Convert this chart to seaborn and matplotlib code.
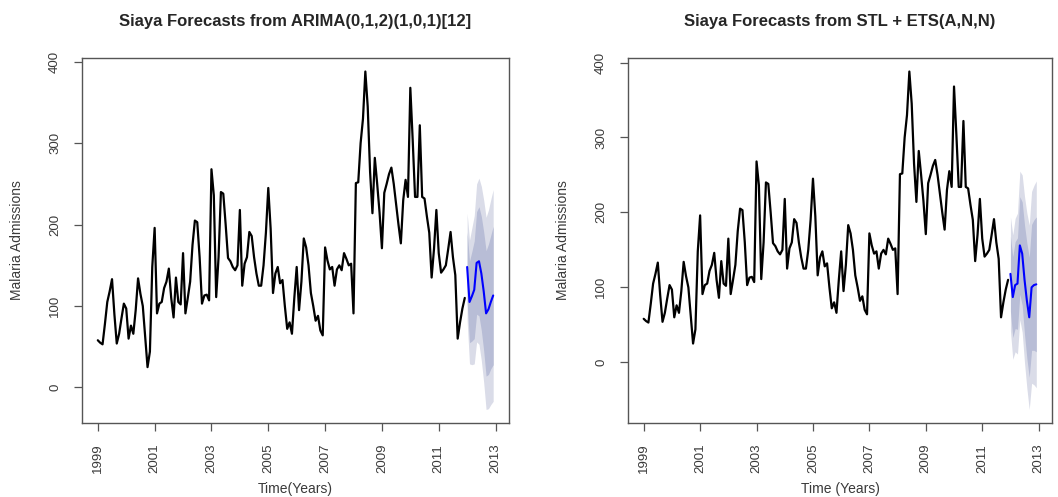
import numpy as np
import pandas as pd
import matplotlib
matplotlib.use("Agg")
import matplotlib.pyplot as plt
import seaborn as sns

# Monthly malaria admissions, Siaya, Jan 1999 - Dec 2011
admissions = [
    58, 55, 53, 78, 105, 118, 133, 90, 54, 66, 85, 103,        # 1999
    97, 60, 76, 66, 95, 134, 115, 100, 62, 25, 44, 148,        # 2000
    196, 91, 103, 105, 122, 130, 146, 110, 86, 135, 105, 102,  # 2001
    165, 91, 110, 130, 175, 205, 203, 160, 103, 113, 114, 107, # 2002
    268, 236, 111, 160, 240, 238, 200, 159, 155, 148, 144, 150,# 2003
    218, 125, 152, 160, 191, 186, 160, 140, 125, 125, 150, 190,# 2004
    245, 195, 116, 140, 148, 128, 132, 100, 72, 80, 66, 110,   # 2005
    148, 95, 130, 183, 172, 150, 116, 100, 82, 88, 70, 64,     # 2006
    172, 156, 145, 148, 125, 145, 150, 144, 165, 158, 150, 152,# 2007
    91, 251, 252, 300, 330, 388, 345, 265, 214, 282, 250, 215, # 2008
    171, 239, 250, 262, 270, 250, 225, 200, 177, 230, 255, 234,# 2009
    368, 304, 234, 234, 322, 234, 232, 210, 190, 135, 170, 218,# 2010
    165, 141, 145, 150, 170, 191, 160, 138, 60, 80, 97, 110,   # 2011
]
start_year = 1999
forecast_year = 2012

# ARIMA(0,1,2)(1,0,1)[12] forecasts for 2012
arima_mean = [148, 105, 112, 120, 153, 155, 140, 118, 91, 96, 105, 113]
arima_lo80 = [105, 55, 57, 60, 90, 88, 70, 45, 14, 16, 23, 28]
arima_hi80 = [191, 155, 167, 180, 216, 222, 210, 191, 168, 176, 187, 198]
arima_lo95 = [82, 29, 28, 29, 56, 53, 33, 6, -27, -26, -21, -17]
arima_hi95 = [214, 181, 196, 211, 250, 257, 247, 230, 209, 218, 231, 243]

# STL + ETS(A,N,N) forecasts for 2012
stl_mean = [118, 87, 103, 105, 156, 145, 110, 82, 60, 100, 103, 104]
stl_lo80 = [68, 33, 45, 44, 91, 76, 37, 5, -20, 16, 16, 14]
stl_hi80 = [168, 141, 161, 166, 221, 214, 183, 159, 140, 184, 190, 194]
stl_lo95 = [42, 4, 14, 11, 57, 40, -1, -35, -63, -28, -30, -34]
stl_hi95 = [194, 170, 192, 199, 255, 250, 221, 199, 183, 228, 236, 242]

titles = ["Siaya Forecasts from ARIMA(0,1,2)(1,0,1)[12]",
          "Siaya Forecasts from STL + ETS(A,N,N)"]
xlabels = ["Time(Years)", "Time (Years)"]
ylabel = "Malaria Admissions"
year_ticks = [1999, 2001, 2003, 2005, 2007, 2009, 2011, 2013]
value_ticks = [0, 100, 200, 300, 400]

sns.set_theme(style="ticks")
plt.rcParams["font.family"] = ["Liberation Sans", "DejaVu Sans"]

hist = pd.DataFrame({
    "time": start_year + np.arange(len(admissions)) / 12.0,
    "admissions": admissions,
})

def forecast_frame(mean, lo80, hi80, lo95, hi95):
    return pd.DataFrame({
        "time": forecast_year + np.arange(len(mean)) / 12.0,
        "mean": mean, "lo80": lo80, "hi80": hi80, "lo95": lo95, "hi95": hi95,
    })

forecasts = [
    forecast_frame(arima_mean, arima_lo80, arima_hi80, arima_lo95, arima_hi95),
    forecast_frame(stl_mean, stl_lo80, stl_hi80, stl_lo95, stl_hi95),
]

W, H = 1058, 497
fig = plt.figure(figsize=(W / 100, H / 100), dpi=100)
axes = [
    fig.add_axes([82 / W, 74 / H, 427 / W, 365 / H]),
    fig.add_axes([628 / W, 74 / H, 424 / W, 365 / H]),
]

shade95 = "#DADCE8"
shade80 = "#B8BDD6"
label_grey = "#3a3a3a"

for ax, fc, title, xlab in zip(axes, forecasts, titles, xlabels):
    ax.fill_between(fc["time"], fc["lo95"], fc["hi95"], color=shade95, lw=0)
    ax.fill_between(fc["time"], fc["lo80"], fc["hi80"], color=shade80, lw=0)
    sns.lineplot(data=hist, x="time", y="admissions", ax=ax,
                 color="black", lw=1.6)
    sns.lineplot(data=fc, x="time", y="mean", ax=ax,
                 color="#0000FF", lw=1.5)

    # R-style 4% padding around the data range
    t0, t1 = hist["time"].min(), fc["time"].max()
    lo = min(hist["admissions"].min(), fc["lo95"].min())
    hi = max(hist["admissions"].max(), fc["hi95"].max())
    ax.set_xlim(t0 - 0.04 * (t1 - t0), t1 + 0.04 * (t1 - t0))
    ax.set_ylim(lo - 0.04 * (hi - lo), hi + 0.04 * (hi - lo))

    ax.set_xticks(year_ticks)
    ax.set_xticklabels([str(y) for y in year_ticks], rotation=90)
    ax.set_yticks(value_ticks)
    ax.set_yticklabels([str(v) for v in value_ticks], rotation=90, va="center")
    ax.tick_params(axis="both", direction="out", length=6, width=0.9,
                   color="#555555", labelsize=9.5, labelcolor=label_grey, pad=9)

    for side in ["top", "right", "bottom", "left"]:
        ax.spines[side].set_visible(True)
        ax.spines[side].set_color("#555555")
        ax.spines[side].set_linewidth(1.0)

    ax.set_title(title, fontsize=12, fontweight="bold", pad=23)
    ax.set_xlabel(xlab, fontsize=10, color=label_grey, labelpad=6)
    ax.set_ylabel(ylabel, fontsize=10, color=label_grey, labelpad=18)

fig.savefig("out.png", dpi=100, facecolor="white")
